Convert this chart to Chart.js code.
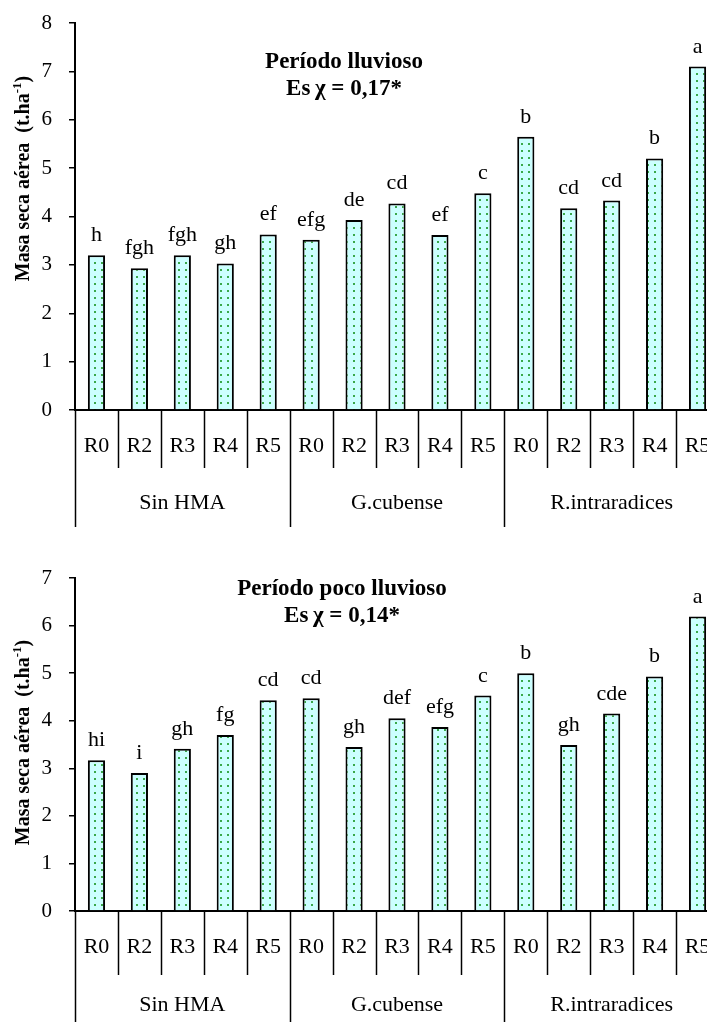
<!DOCTYPE html>
<html>
<head>
<meta charset="utf-8">
<script src="https://cdn.jsdelivr.net/npm/chart.js@4.4.1/dist/chart.umd.min.js"></script>
<style>
html, body { margin: 0; padding: 0; overflow: hidden; background: #fff; width: 707px; height: 1022px; }
.box { position: absolute; left: 0; width: 707px; }
#b1 { top: 0; height: 530px; }
#b2 { top: 530px; height: 492px; }
</style>
</head>
<body>
<div class="box" id="b1"><canvas id="c1"></canvas></div>
<div class="box" id="b2"><canvas id="c2"></canvas></div>
<script>
const treatments = ['R0','R2','R3','R4','R5','R0','R2','R3','R4','R5','R0','R2','R3','R4','R5'];
const groups = ['Sin HMA', 'G.cubense', 'R.intraradices'];

const rainyValues  = [3.2, 2.93, 3.2, 3.03, 3.63, 3.52, 3.93, 4.27, 3.62, 4.48, 5.65, 4.17, 4.33, 5.2, 7.1];
const rainyLetters = ['h','fgh','fgh','gh','ef','efg','de','cd','ef','c','b','cd','cd','b','a'];
const rainyTitle   = ['Período lluvioso', 'Es\u2009χ = 0,17*'];

const dryValues  = [3.17, 2.9, 3.41, 3.7, 4.43, 4.47, 3.45, 4.05, 3.87, 4.53, 5.0, 3.49, 4.15, 4.93, 6.19];
const dryLetters = ['hi','i','gh','fg','cd','cd','gh','def','efg','c','b','gh','cde','b','a'];
const dryTitle   = ['Período poco lluvioso', 'Es\u2009χ = 0,14*'];

const yTitle = ['Masa seca aérea  (t.ha', '-1', ')'];

const SERIF = '"Liberation Serif", "Times New Roman", serif';

function dotPattern() {
	const c = document.createElement('canvas');
	c.width = 7; c.height = 7;
	const g = c.getContext('2d');
	g.fillStyle = '#ccffff';
	g.fillRect(0, 0, 7, 7);
	g.fillStyle = '#3aa84a';
	g.fillRect(3, 3, 2, 2);
	return g.createPattern(c, 'repeat');
}

// fixed plot box (the last category runs past the right edge, like the original)
// plus letters, titles, y title and the two-level category axis
const decor = {
	id: 'decor',
	afterLayout(chart, args, o) {
		const xs = chart.scales.x, ys = chart.scales.y;
		const a = chart.chartArea;
		a.left = o.plotLeft; a.right = o.plotRight;
		a.top = o.plotTop; a.bottom = o.plotBottom;
		a.width = a.right - a.left; a.height = a.bottom - a.top;
		Object.assign(xs, { left: a.left, right: a.right, width: a.width,
			top: a.bottom, bottom: chart.height, height: chart.height - a.bottom });
		Object.assign(ys, { left: 0, right: a.left, width: a.left,
			top: a.top, bottom: a.bottom, height: a.height });
		xs.configure();
		ys.configure();
	},
	afterDraw(chart, args, o) {
		const ctx = chart.ctx;
		const xs = chart.scales.x;
		const area = chart.chartArea;
		ctx.save();
		ctx.fillStyle = '#000';
		ctx.strokeStyle = '#000';

		// letters above bars
		ctx.font = '22px ' + SERIF;
		ctx.textAlign = 'center';
		ctx.textBaseline = 'alphabetic';
		chart.getDatasetMeta(0).data.forEach((bar, i) => {
			ctx.fillText(o.letters[i], bar.x, bar.y - 14);
		});

		// title inside the plot
		ctx.font = 'bold 23px ' + SERIF;
		ctx.fillText(o.title[0], o.titleX, area.top + o.titleY);
		ctx.fillText(o.title[1], o.titleX, area.top + o.titleY + 27);

		// category separators and group names
		const n = chart.data.labels.length;
		const w = xs.width / n;
		ctx.lineWidth = 1.5;
		for (let i = 0; i <= n; i++) {
			const x = Math.round(xs.left + i * w) + 0.5;
			const long = i % 5 === 0;
			ctx.beginPath();
			ctx.moveTo(x, area.bottom);
			ctx.lineTo(x, area.bottom + (long ? o.longLen : o.shortLen));
			ctx.stroke();
		}
		ctx.font = '22px ' + SERIF;
		groups.forEach((g, k) => {
			ctx.fillText(g, xs.left + (k * 5 + 2.5) * w, area.bottom + o.groupY);
		});

		// rotated y title with superscript
		ctx.font = 'bold 20px ' + SERIF;
		const supFont = 'bold 13px ' + SERIF;
		const w0 = ctx.measureText(yTitle[0]).width;
		const w2 = ctx.measureText(yTitle[2]).width;
		ctx.font = supFont;
		const w1 = ctx.measureText(yTitle[1]).width;
		const total = w0 + w1 + w2;
		const cy = (area.top + area.bottom) / 2 + o.yShift;
		ctx.translate(o.yTitleX, cy);
		ctx.rotate(-Math.PI / 2);
		ctx.textAlign = 'left';
		let px = -total / 2;
		ctx.font = 'bold 20px ' + SERIF;
		ctx.fillText(yTitle[0], px, 7);
		px += w0;
		ctx.font = supFont;
		ctx.fillText(yTitle[1], px, -1);
		px += w1;
		ctx.font = 'bold 20px ' + SERIF;
		ctx.fillText(yTitle[2], px, 7);
		ctx.restore();
	}
};

function makeChart(id, values, letters, yMax, title, opts) {
	return new Chart(document.getElementById(id).getContext('2d'), {
		type: 'bar',
		data: {
			labels: treatments,
			datasets: [{
				data: values,
				backgroundColor: dotPattern(),
				borderColor: '#000',
				borderWidth: 2,
				barPercentage: 0.4,
				categoryPercentage: 1
			}]
		},
		options: {
			responsive: true,
			maintainAspectRatio: false,
			animation: false,
			layout: { padding: { top: opts.plotTop, left: 0, right: 0, bottom: 0 } },
			plugins: {
				legend: { display: false },
				tooltip: { enabled: false },
				decor: Object.assign({ letters: letters, title: title }, opts)
			},
			scales: {
				x: {
					grid: { display: false, drawTicks: false },
					border: { color: '#000', width: 2 },
					ticks: { color: '#000', font: { family: SERIF, size: 22 }, padding: 23, maxRotation: 0, autoSkip: false },
					afterFit: s => { s.height = opts.xHeight; }
				},
				y: {
					min: 0,
					max: yMax,
					grid: { drawOnChartArea: false, drawTicks: true, tickLength: 6, color: '#000', lineWidth: 1.5 },
					border: { color: '#000', width: 2 },
					ticks: { stepSize: 1, color: '#000', font: { family: SERIF, size: 21 }, padding: 17 },
					afterFit: s => { s.width = 75; }
				}
			}
		},
		plugins: [decor]
	});
}

makeChart('c1', rainyValues, rainyLetters, 8, rainyTitle,
	{ plotLeft: 75, plotRight: 719, plotTop: 23, plotBottom: 410, xHeight: 120,
	  titleX: 344, titleY: 45, yShift: -38, yTitleX: 22, shortLen: 58, longLen: 117, groupY: 99 });
makeChart('c2', dryValues, dryLetters, 7, dryTitle,
	{ plotLeft: 75, plotRight: 719, plotTop: 48, plotBottom: 381, xHeight: 111,
	  titleX: 342, titleY: 17, yShift: -2, yTitleX: 22, shortLen: 64, longLen: 111, groupY: 100 });
</script>
</body>
</html>
